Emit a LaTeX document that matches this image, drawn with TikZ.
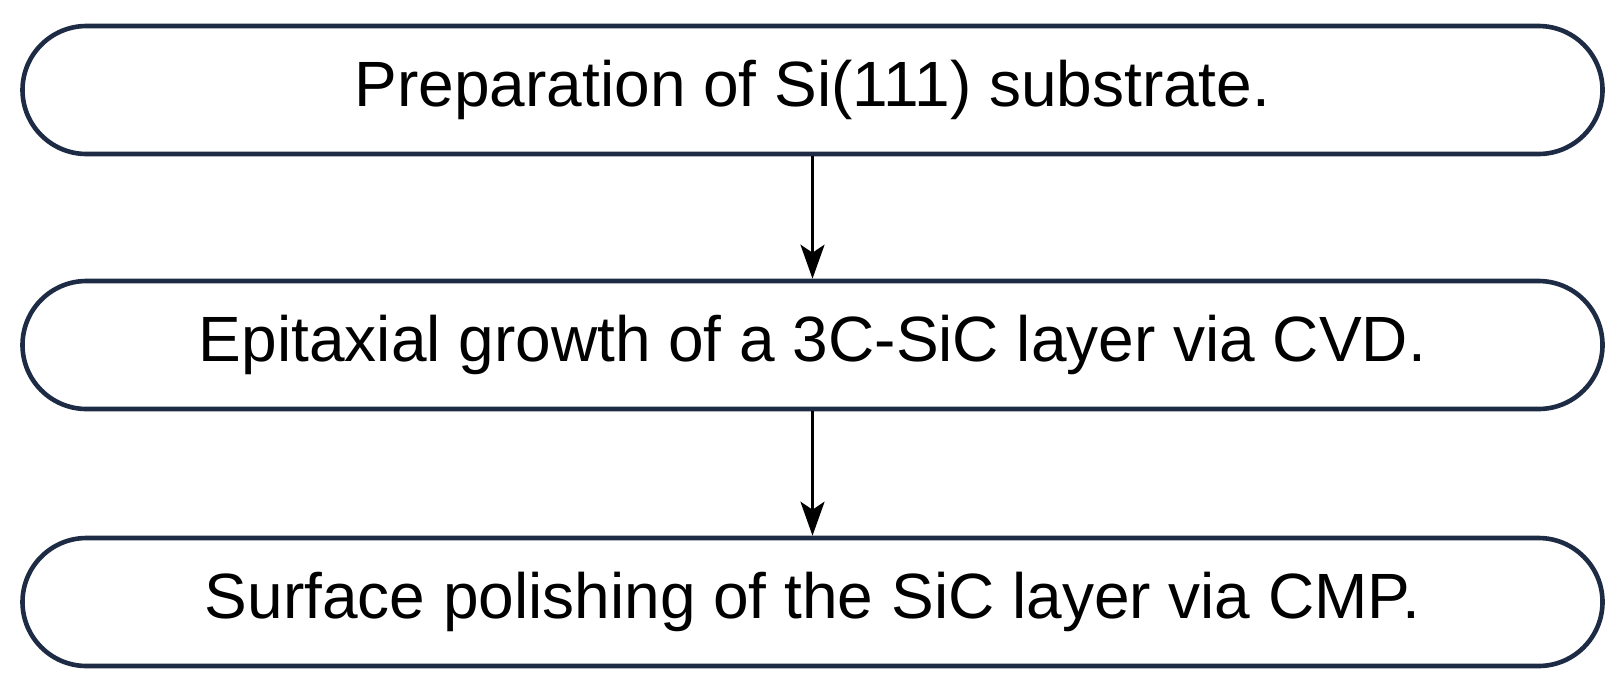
\documentclass[tikz,border=0pt]{standalone}
\usepackage{fontspec}
\setmainfont{Liberation Sans}
\usetikzlibrary{arrows.meta, positioning}
\definecolor{stepnavy}{HTML}{1E2B45}

\begin{document}
\begin{tikzpicture}[
    x=0.5pt, y=-0.5pt,
    font=\fontsize{32}{38}\selectfont,
    stepbox/.style={draw=stepnavy, line width=2.3pt, fill=white, rounded corners=32pt, minimum width=790pt, minimum height=64pt, inner sep=0pt, align=center},
    arr/.style={-{Stealth[length=17pt, width=12pt, inset=4pt]}, line width=1.5pt, color=black},
]
\useasboundingbox (0,0) rectangle (1622,691);
\node[stepbox] (prep) at (812.5,90) {Preparation of Si(111) substrate.};
\node[stepbox] (epi) at (812.5,345) {Epitaxial growth of a 3C-SiC layer via CVD.};
\node[stepbox] (cmp) at (812.5,602) {Surface polishing of the SiC layer via CMP.};
\draw[arr] (prep) -- (epi);
\draw[arr] (epi) -- (cmp);
\end{tikzpicture}
\end{document}
